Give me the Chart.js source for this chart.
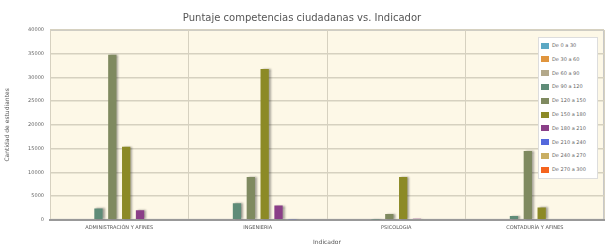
<!DOCTYPE html>
<html>
<head>
<meta charset="utf-8">
<script src="https://cdn.jsdelivr.net/npm/chart.js@4"></script>
<style>
  html, body { margin: 0; padding: 0; background: #fff; }
  #wrap { position: relative; width: 607px; height: 248px; }
  #legend {
    position: absolute; left: 538px; top: 37px; width: 58px;
    background: #fff; border: 1px solid #ddd; font: 5px "DejaVu Sans", sans-serif; color: #666;
    padding: 1px 0;
  }
  #legend div { height: 13.8px; line-height: 13.8px; white-space: nowrap; }
  #legend span { display: inline-block; width: 8px; height: 6px; margin: 0 3px 0 2px; vertical-align: middle; }
</style>
</head>
<body>
<div id="wrap">
  <canvas id="chart" width="607" height="248"></canvas>
  <div id="legend"></div>
</div>
<script>
// categorías y series
const categories = ["ADMINISTRACIÓN Y AFINES", "INGENIERIA", "PSICOLOGIA", "CONTADURÍA Y AFINES"];
const rangos = ["De 0 a 30", "De 30 a 60", "De 60 a 90", "De 90 a 120", "De 120 a 150",
                "De 150 a 180", "De 180 a 210", "De 210 a 240", "De 240 a 270", "De 270 a 300"];
const colores = ["#5ba8c4", "#e0953e", "#b3a88a", "#5f8c78", "#7f8a60",
                 "#8c8a26", "#8a3f88", "#5468dc", "#c9ae62", "#f5641e"];

// valores por rango (uno por categoría)
const r0_30    = [0, 0, 0, 0];
const r30_60   = [0, 0, 0, 0];
const r60_90   = [0, 0, 0, 0];
const r90_120  = [2400, 3500, 50, 800];
const r120_150 = [34800, 9000, 1200, 14500];
const r150_180 = [15400, 31800, 9000, 2600];
const r180_210 = [2000, 3000, 200, 0];
const r210_240 = [0, 100, 0, 0];
const r240_270 = [0, 0, 0, 0];
const r270_300 = [0, 0, 0, 0];
const series = [r0_30, r30_60, r60_90, r90_120, r120_150, r150_180, r180_210, r210_240, r240_270, r270_300];

const yTicks = [0, 5000, 10000, 15000, 20000, 25000, 30000, 35000, 40000];

// fondo crema del área de trazado
const plotBg = {
    id: "plotBg",
    beforeDraw(chart) {
        const { ctx, chartArea: a } = chart;
        ctx.save();
        ctx.fillStyle = "#fdf8e7";
        ctx.fillRect(a.left, a.top, a.right - a.left, a.bottom - a.top);
        ctx.strokeStyle = "#c8c8c8";
        ctx.lineWidth = 1;
        ctx.strokeRect(a.left + 0.5, a.top + 0.5, a.right - a.left - 1, a.bottom - a.top - 1);
        ctx.restore();
    }
};

// sombra de las barras
const barShadow = {
    id: "barShadow",
    beforeDatasetsDraw(chart) {
        const ctx = chart.ctx;
        ctx.save();
        ctx.shadowColor = "rgba(0,0,0,0.35)";
        ctx.shadowOffsetX = 2;
        ctx.shadowOffsetY = 0;
        ctx.shadowBlur = 2;
    },
    afterDatasetsDraw(chart) {
        chart.ctx.restore();
    }
};

new Chart(document.getElementById("chart"), {
    type: "bar",
    data: {
        labels: categories,
        datasets: rangos.map((r, i) => ({
            label: r,
            data: series[i],
            backgroundColor: colores[i],
            categoryPercentage: 1.0,
            barPercentage: 0.6
        }))
    },
    options: {
        responsive: false,
        animation: false,
        layout: { padding: { top: 4, right: 3, left: 0, bottom: 0 } },
        plugins: {
            legend: { display: false },
            tooltip: { enabled: false },
            title: {
                display: true,
                text: "Puntaje competencias ciudadanas vs. Indicador",
                color: "#555",
                font: { family: "DejaVu Sans", size: 10, weight: "normal" },
                padding: { top: 8, bottom: 6 }
            }
        },
        scales: {
            x: {
                grid: { color: "#d6d1c0", offset: true, drawTicks: false },
                border: { color: "#999", width: 2 },
                ticks: { color: "#555", font: { family: "DejaVu Sans", size: 5 }, padding: 5, maxRotation: 0 },
                title: { display: true, text: "Indicador", color: "#555",
                         font: { family: "DejaVu Sans", size: 6 }, padding: { top: 3, bottom: 2 } }
            },
            y: {
                min: 0, max: 40000,
                afterBuildTicks: (axis) => { axis.ticks = yTicks.map(v => ({ value: v })); },
                grid: { color: "#d6d1c0", lineWidth: 1.5, drawTicks: false },
                border: { display: false },
                ticks: { color: "#666", font: { family: "DejaVu Sans", size: 5 }, padding: 6,
                         callback: (v) => String(v) },
                title: { display: true, text: "Cantidad de estudiantes", color: "#555",
                         font: { family: "DejaVu Sans", size: 6 }, padding: { bottom: 4 } },
                afterFit: (axis) => { axis.width = 50; }
            }
        }
    },
    plugins: [plotBg, barShadow]
});

// leyenda HTML dentro del área de trazado
document.getElementById("legend").innerHTML = rangos.map((r, i) =>
    `<div><span style="background:${colores[i]}"></span>${r}</div>`).join("");
</script>
</body>
</html>
